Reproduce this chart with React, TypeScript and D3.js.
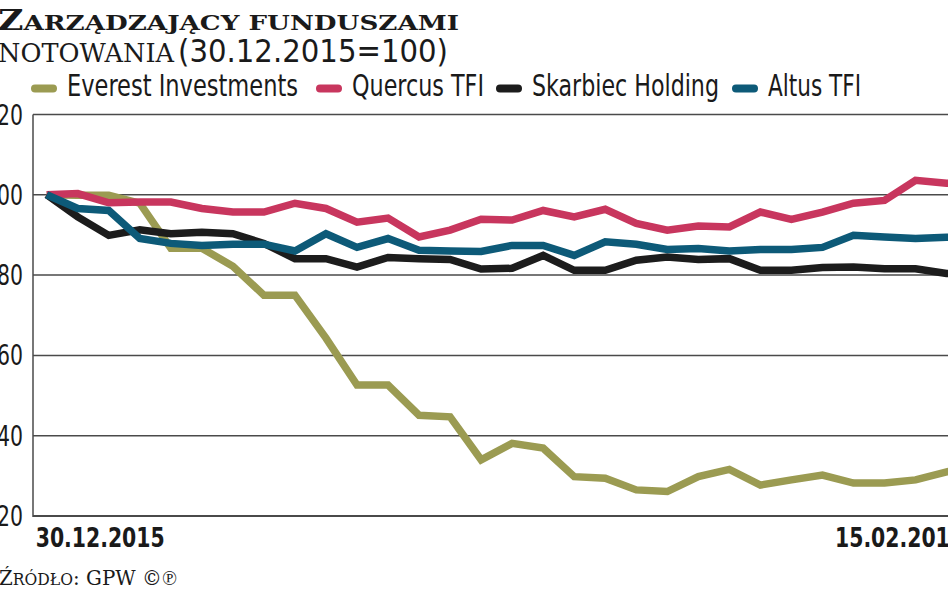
import React from "react";
import * as d3 from "d3";

const dates = [
  "2015-12-30", "2016-01-04", "2016-01-05", "2016-01-07", "2016-01-08",
  "2016-01-11", "2016-01-12", "2016-01-13", "2016-01-14", "2016-01-15",
  "2016-01-18", "2016-01-19", "2016-01-20", "2016-01-21", "2016-01-22",
  "2016-01-25", "2016-01-26", "2016-01-27", "2016-01-28", "2016-01-29",
  "2016-02-01", "2016-02-02", "2016-02-03", "2016-02-04", "2016-02-05",
  "2016-02-08", "2016-02-09", "2016-02-10", "2016-02-11", "2016-02-12",
  "2016-02-15",
];

const everest = [100, 99.9, 99.9, 97.9, 86.7, 86.7, 82.2, 75.0, 75.0, 64.3, 52.6, 52.6, 45.1, 44.7, 34.0, 38.1, 36.9, 29.8, 29.4, 26.5, 26.1, 29.8, 31.6, 27.7, 29.0, 30.2, 28.2, 28.2, 29.0, 31.0, 32.0];
const quercus = [100, 100.3, 98.0, 98.2, 98.2, 96.6, 95.7, 95.7, 97.9, 96.6, 93.2, 94.2, 89.5, 91.2, 93.9, 93.7, 96.1, 94.5, 96.4, 92.9, 91.2, 92.2, 92.0, 95.7, 93.9, 95.7, 97.9, 98.6, 103.6, 102.9, 102.5];
const skarbiec = [100, 94.5, 89.9, 91.3, 90.3, 90.7, 90.3, 87.9, 84.1, 84.1, 82.0, 84.4, 84.1, 83.9, 81.5, 81.7, 84.9, 81.2, 81.2, 83.7, 84.5, 83.9, 84.1, 81.2, 81.2, 81.9, 82.0, 81.6, 81.6, 80.4, 80.0];
const altus = [100, 96.6, 96.1, 89.1, 87.9, 87.4, 87.7, 87.7, 86.0, 90.3, 86.9, 89.1, 86.2, 86.0, 85.9, 87.4, 87.4, 84.9, 88.3, 87.7, 86.4, 86.6, 86.0, 86.4, 86.4, 86.9, 89.9, 89.5, 89.1, 89.4, 89.5];

const seriesNames = ["Everest Investments", "Quercus TFI", "Skarbiec Holding", "Altus TFI"];
const seriesValues = [everest, quercus, skarbiec, altus];
const seriesColors = ["#9b9b52", "#c8365e", "#1c1c1c", "#0d5a78"];

const yTicks = [20, 40, 60, 80, 100, 120];
const xTickLabels = ["30.12.2015", "15.02.2016"];

const titleLine1Cap = "Z";
const titleLine1Rest = "ARZĄDZAJĄCY FUNDUSZAMI";
const titleLine2a = "NOTOWANIA";
const titleLine2b = "(30.12.2015=100)";
const sourceCap = "Ź";
const sourceRest = "RÓDŁO";
const sourceTail = ": GPW ©℗";

const W = 948;
const H = 593;
const SANS = "'Liberation Sans Narrow', 'DejaVu Sans Condensed', 'Roboto', sans-serif";
const SERIF = "'DejaVu Serif', 'Liberation Serif', serif";

const legendLayout = [
  { sx: 31, tx: 67, tw: 231 },
  { sx: 316, tx: 352, tw: 132 },
  { sx: 496, tx: 532, tw: 187 },
  { sx: 732, tx: 768, tw: 93 },
];

export default function App() {
  const x = d3.scalePoint<string>().domain(dates).range([46.7, 46.7 + 30 * 31.03]);
  const y = d3.scaleLinear().domain([20, 120]).range([516, 114.5]);
  const line = d3
    .line<number>()
    .x((_, i) => x(dates[i]) as number)
    .y((d) => y(d));

  const axisLeft = 33;

  return (
    <svg
      width={W}
      height={H}
      style={{ position: "absolute", left: 0, top: 0, background: "#fff" }}
    >
      <rect x={0} y={0} width={W} height={H} fill="#fff" />
      {/* Title */}
      <text x={-2} y={30} fontFamily={SERIF} fontWeight="bold" fill="#1a1a1a" textLength={461} lengthAdjust="spacingAndGlyphs">
        <tspan fontSize={28}>{titleLine1Cap}</tspan>
        <tspan fontSize={21}>{titleLine1Rest}</tspan>
      </text>
      <text x={-2} y={62} fontFamily={SERIF} fontSize={26} fill="#1a1a1a" textLength={176} lengthAdjust="spacingAndGlyphs">
        {titleLine2a}
      </text>
      <text x={178} y={62} fontFamily={SANS} fontSize={32} fill="#1a1a1a" textLength={270} lengthAdjust="spacingAndGlyphs">
        {titleLine2b}
      </text>

      {/* Legend */}
      {seriesNames.map((name, i) => (
        <g key={name}>
          <line
            x1={legendLayout[i].sx + 4}
            x2={legendLayout[i].sx + 22}
            y1={88.5}
            y2={88.5}
            stroke={seriesColors[i]}
            strokeWidth={8}
            strokeLinecap="round"
          />
          <text
            x={legendLayout[i].tx}
            y={96}
            fontFamily={SANS}
            fontSize={30}
            fill="#1a1a1a"
            textLength={legendLayout[i].tw}
            lengthAdjust="spacingAndGlyphs"
          >
            {name}
          </text>
        </g>
      ))}

      {/* Grid */}
      {yTicks.map((t) => (
        <line
          key={"g" + t}
          x1={axisLeft}
          x2={W}
          y1={y(t)}
          y2={y(t)}
          stroke="#4a4a4a"
          strokeWidth={t === 20 ? 2 : 1.5}
        />
      ))}
      <line x1={axisLeft} x2={axisLeft} y1={y(120)} y2={y(20) + 1} stroke="#4a4a4a" strokeWidth={1.5} />

      {/* Y tick labels */}
      {yTicks.map((t) => (
        <text
          key={"l" + t}
          x={23}
          y={y(t) + 10}
          textAnchor="end"
          fontFamily={SANS}
          fontSize={28}
          fill="#1a1a1a"
          textLength={String(t).length * 13}
          lengthAdjust="spacingAndGlyphs"
        >
          {t}
        </text>
      ))}

      {/* Series */}
      {seriesValues.map((vals, i) => (
        <path
          key={seriesNames[i]}
          d={line(vals) || ""}
          fill="none"
          stroke={seriesColors[i]}
          strokeWidth={7.5}
          strokeLinejoin="miter"
          strokeMiterlimit={3}
        />
      ))}

      {/* X labels */}
      <text
        x={(x(dates[0]) as number) - 11}
        y={547}
        fontFamily={SANS}
        fontWeight="bold"
        fontSize={27}
        fill="#1a1a1a"
        textLength={129}
        lengthAdjust="spacingAndGlyphs"
      >
        {xTickLabels[0]}
      </text>
      <text
        x={(x(dates[dates.length - 1]) as number) - 13.6}
        y={547}
        textAnchor="end"
        fontFamily={SANS}
        fontWeight="bold"
        fontSize={27}
        fill="#1a1a1a"
        textLength={129}
        lengthAdjust="spacingAndGlyphs"
      >
        {xTickLabels[1]}
      </text>

      {/* Source */}
      <text x={-1} y={585} fontFamily={SERIF} fill="#1a1a1a" textLength={178} lengthAdjust="spacingAndGlyphs">
        <tspan fontSize={21}>{sourceCap}</tspan>
        <tspan fontSize={16.5}>{sourceRest}</tspan>
        <tspan fontSize={21}>{sourceTail}</tspan>
      </text>
    </svg>
  );
}
